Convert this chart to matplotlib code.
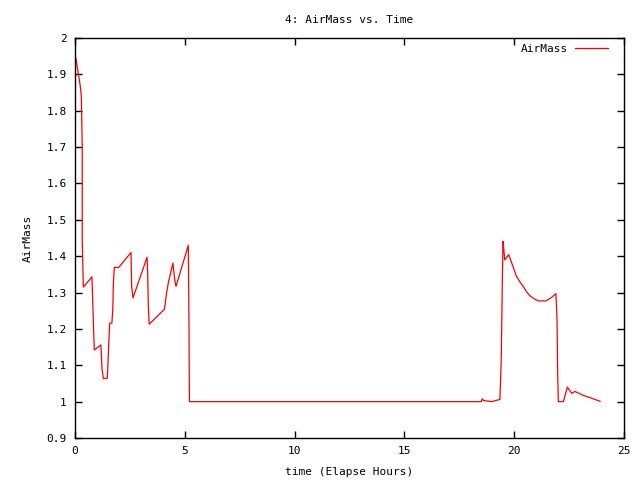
import matplotlib
matplotlib.use("Agg")
import matplotlib.pyplot as plt

# 経過時間 (hours) と AirMass の値
time_hours = [0.0, 0.05, 0.09, 0.14, 0.18, 0.23, 0.27, 0.29, 0.33, 0.33, 0.38,
              0.77, 0.80, 0.85, 0.88, 1.18, 1.23, 1.29, 1.47, 1.50, 1.55, 1.58,
              1.68, 1.72, 1.75, 1.79, 1.99, 2.55, 2.58, 2.64, 3.28, 3.31, 3.34,
              3.38, 4.07, 4.11, 4.17, 4.26, 4.46, 4.54, 4.60, 5.16, 5.19, 5.21,
              18.50, 18.55, 18.60, 18.97, 19.35, 19.41, 19.46, 19.49, 19.52,
              19.57, 19.75, 19.89, 20.00, 20.11, 20.25, 20.41, 20.55, 20.72,
              20.90, 21.10, 21.45, 21.71, 21.90, 21.95, 21.98, 22.01, 22.24,
              22.42, 22.62, 22.77, 23.15, 23.45, 23.91]
airmass = [1.949, 1.941, 1.925, 1.906, 1.891, 1.872, 1.851, 1.836, 1.70, 1.443, 1.315,
           1.343, 1.291, 1.192, 1.142, 1.156, 1.090, 1.064, 1.064, 1.103, 1.179, 1.216,
           1.216, 1.254, 1.329, 1.369, 1.369, 1.410, 1.317, 1.285, 1.397, 1.352, 1.260,
           1.213, 1.254, 1.270, 1.299, 1.330, 1.381, 1.335, 1.317, 1.430, 1.214, 1.000,
           1.000, 1.008, 1.003, 1.000, 1.006, 1.115, 1.332, 1.441, 1.423,
           1.390, 1.404, 1.381, 1.362, 1.344, 1.330, 1.317, 1.303, 1.291,
           1.283, 1.277, 1.277, 1.287, 1.297, 1.225, 1.074, 1.000, 1.000,
           1.040, 1.023, 1.028, 1.017, 1.011, 1.001]

x_ticks = [0, 5, 10, 15, 20, 25]
y_ticks = [0.9, 1, 1.1, 1.2, 1.3, 1.4, 1.5, 1.6, 1.7, 1.8, 1.9, 2]

plt.rcParams['font.family'] = ['DejaVu Sans Mono']
plt.rcParams['font.size'] = 8

fig = plt.figure(figsize=(6.4, 4.8), dpi=100)
ax = fig.add_axes([75 / 640, 42 / 480, 549 / 640, 400 / 480])

ax.plot(time_hours, airmass, color="red", linewidth=0.9, label="AirMass")

ax.set_xlim(0, 25)
ax.set_ylim(0.9, 2.0)
ax.set_xticks(x_ticks)
ax.set_yticks(y_ticks)
ax.set_yticklabels([f"{v:g}" for v in y_ticks])
ax.tick_params(direction="in", top=True, right=True, length=5, width=1, pad=6)
for s in ax.spines.values():
    s.set_linewidth(1)

ax.set_title("4: AirMass vs. Time", fontsize=8, pad=11)
ax.set_xlabel("time (Elapse Hours)", labelpad=8)
ax.set_ylabel("AirMass", labelpad=10)

leg = ax.legend(loc="upper right", frameon=False, markerfirst=False,
                handlelength=3.0, handletextpad=0.6, fontsize=8,
                borderpad=0, borderaxespad=0,
                bbox_to_anchor=(0.971, 0.985))

fig.savefig("out.png", dpi=100)
